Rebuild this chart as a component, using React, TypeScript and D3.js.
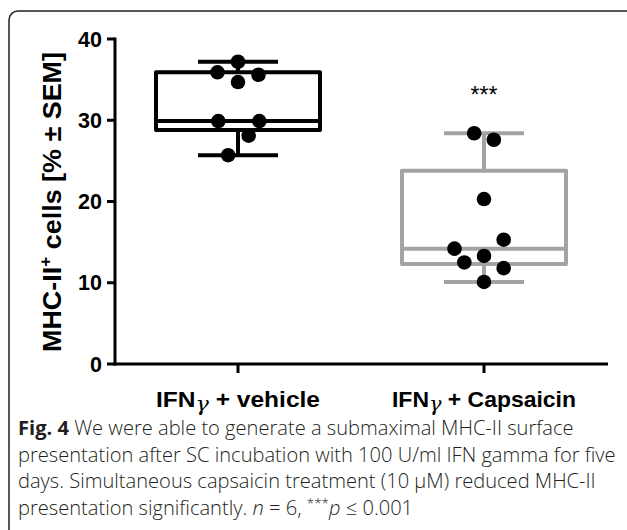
import React from "react";
import * as d3 from "d3";

const categories = ["IFNγ + vehicle", "IFNγ + Capsaicin"];
const labelMain = ["IFN", "IFN"];
const labelRest = [" + vehicle", " + Capsaicin"];
const boxColors = ["#000000", "#a3a3a3"];

// box statistics: [min, q1, median, q3, max]
const vehicleStats = [25.7, 28.8, 29.9, 35.9, 37.2];
const capsaicinStats = [10.1, 12.3, 14.2, 23.8, 28.4];

// individual values and horizontal jitter (fraction of box half-width)
const vehicleValues = [37.2, 35.9, 35.6, 34.7, 29.9, 29.9, 28.1, 25.7];
const vehicleJitter = [0, -0.25, 0.25, 0, -0.24, 0.26, 0.13, -0.12];
const capsaicinValues = [28.4, 27.6, 20.3, 15.3, 14.2, 13.3, 12.5, 11.8, 10.1];
const capsaicinJitter = [-0.12, 0.12, 0, 0.24, -0.36, 0, -0.24, 0.24, 0];

const yTicks = [0, 10, 20, 30, 40];
const yLabel = "MHC-II";
const significance = ["", "***"];

const captionLines = [
  [
    { t: "Fig. 4", b: true },
    { t: " We were able to generate a submaximal MHC-II surface" },
  ],
  [{ t: "presentation after SC incubation with 100 U/ml IFN gamma for five" }],
  [{ t: "days. Simultaneous capsaicin treatment (10 μM) reduced MHC-II" }],
  [
    { t: "presentation significantly. " },
    { t: "n", i: true },
    { t: " = 6, " },
    { t: "***", sup: true },
    { t: "p", i: true },
    { t: " ≤ 0.001" },
  ],
];

export default function App() {
  const W = 627;
  const H = 530;
  const x = d3.scalePoint<string>().domain(categories).range([115, 607]).padding(0.5);
  const y = d3.scaleLinear().domain([0, 40]).range([364, 39]);
  const stats = [vehicleStats, capsaicinStats];
  const vals = [vehicleValues, capsaicinValues];
  const jit = [vehicleJitter, capsaicinJitter];
  const boxHalf = 82;
  const whiskHalf = 40;
  const font = "'Liberation Sans', Arial, sans-serif";
  const capFont = "'Open Sans', 'Noto Sans', sans-serif";
  const capSize = 20.1;

  return (
    <svg width={W} height={H} style={{ position: "absolute", left: 0, top: 0, background: "#fff" }}>
      <rect x={9} y={11} width={640} height={600} rx={9} ry={9} fill="none" stroke="#222" strokeWidth={1.5} />
      {/* axes */}
      <line x1={115} x2={115} y1={y(40) - 1.5} y2={y(0) + 1.5} stroke="#000" strokeWidth={3} />
      <line x1={113.5} x2={608} y1={y(0)} y2={y(0)} stroke="#000" strokeWidth={3} />
      {yTicks.map((t) => (
        <g key={t}>
          <line x1={107} x2={115} y1={y(t)} y2={y(t)} stroke="#000" strokeWidth={3} />
          <text x={102} y={y(t)} dy="0.36em" textAnchor="end" fontFamily={font} fontWeight="bold" fontSize={21.5}>
            {t}
          </text>
        </g>
      ))}
      {categories.map((c, i) => (
        <g key={c}>
          <line x1={x(c)} x2={x(c)} y1={y(0)} y2={y(0) + 9} stroke="#000" strokeWidth={3} />
          <text x={x(c)} y={407} textAnchor="middle" fontFamily={font} fontWeight="bold" fontSize={22}
            textLength={i === 0 ? 164 : 184} lengthAdjust="spacingAndGlyphs">
            {labelMain[i]}
            <tspan fontWeight="normal" fontFamily="'DejaVu Serif', serif" fontStyle="italic" fontSize={20} dy={4}>γ</tspan>
            <tspan dy={-4}>{labelRest[i]}</tspan>
          </text>
        </g>
      ))}
      {/* y label */}
      <text transform={`translate(61, 202) rotate(-90)`} textAnchor="middle" fontFamily={font} fontWeight="bold"
        fontSize={25} textLength={300} lengthAdjust="spacingAndGlyphs">
        {yLabel}
        <tspan fontSize={16} dy={-10}>+</tspan>
        <tspan dy={10}> cells [% ± SEM]</tspan>
      </text>
      {/* boxes */}
      {categories.map((c, i) => {
        const cx = x(c) as number;
        const [mn, q1, md, q3, mx] = stats[i];
        const col = boxColors[i];
        return (
          <g key={c} stroke={col} strokeWidth={4} fill="none" strokeLinejoin="round">
            <line x1={cx} x2={cx} y1={y(mx)} y2={y(q3)} />
            <line x1={cx} x2={cx} y1={y(q1)} y2={y(mn)} />
            <line x1={cx - whiskHalf} x2={cx + whiskHalf} y1={y(mx)} y2={y(mx)} />
            <line x1={cx - whiskHalf} x2={cx + whiskHalf} y1={y(mn)} y2={y(mn)} />
            <rect x={cx - boxHalf} y={y(q3)} width={boxHalf * 2} height={y(q1) - y(q3)} />
            <line x1={cx - boxHalf} x2={cx + boxHalf} y1={y(md)} y2={y(md)} />
          </g>
        );
      })}
      {/* points */}
      {categories.map((c, i) => (
        <g key={c + "p"}>
          {vals[i].map((v, k) => (
            <circle key={k} cx={(x(c) as number) + jit[i][k] * boxHalf} cy={y(v)} r={7.3} fill="#000" />
          ))}
        </g>
      ))}
      {categories.map((c, i) => (
        <text key={c + "s"} x={x(c)} y={103} textAnchor="middle" fontFamily={font} fontSize={23}>
          {significance[i]}
        </text>
      ))}
      {/* caption */}
      {captionLines.map((line, li) => (
        <text key={li} x={18} y={435 + li * 26.7} fontFamily={capFont} fontSize={capSize} fill="#231f20" fontWeight={300}>
          {line.map((s: any, k) => (
            <tspan key={k} fontWeight={s.b ? 700 : 300} fontStyle={s.i ? "italic" : "normal"}
              fontSize={s.sup ? 13.5 : capSize} dy={s.sup ? -7 : k > 0 && line[k - 1] && (line[k - 1] as any).sup ? 7 : 0}>
              {s.t}
            </tspan>
          ))}
        </text>
      ))}
    </svg>
  );
}
